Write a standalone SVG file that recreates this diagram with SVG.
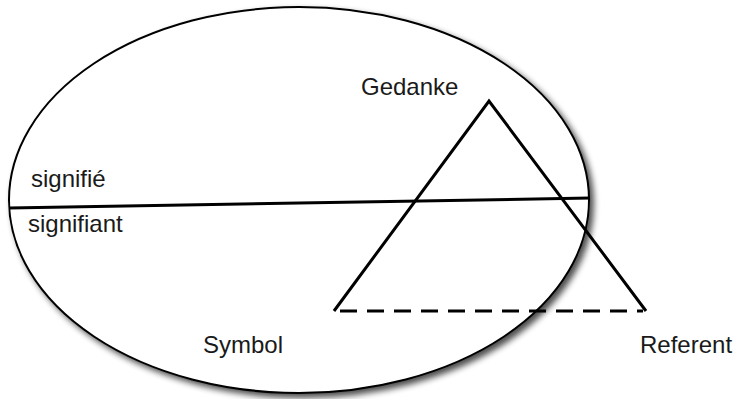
<svg xmlns="http://www.w3.org/2000/svg" width="737" height="399" viewBox="0 0 737 399">
<defs>
<filter id="shadow" x="-10%" y="-10%" width="125%" height="125%">
<feGaussianBlur in="SourceAlpha" stdDeviation="3"/>
<feOffset dx="4" dy="4" result="b"/>
<feComponentTransfer><feFuncA type="linear" slope="0.7"/></feComponentTransfer>
<feMerge><feMergeNode/><feMergeNode in="SourceGraphic"/></feMerge>
</filter>
<style>
.lbl{font-family:"Liberation Sans",Arial,sans-serif;font-size:24px;fill:#1a1a1a}
.ln{stroke:#000;fill:none;stroke-width:3}
</style>
</defs>
<rect width="737" height="399" fill="#fff"/>
<g id="ellipse">
<ellipse cx="299" cy="200" rx="290" ry="193" fill="#fff" stroke="#000" stroke-width="2" filter="url(#shadow)"/>
</g>
<g id="connectors">
<line class="ln" x1="9" y1="208" x2="590" y2="198"/>
<polyline class="ln" points="334,311 489,101 646,311" stroke-linejoin="miter"/>
<line class="ln" x1="340" y1="311" x2="643" y2="311" stroke-dasharray="17,10"/>
</g>
<g id="signifie"><text class="lbl" x="31" y="187">signifié</text></g>
<g id="signifiant"><text class="lbl" x="28" y="232">signifiant</text></g>
<g id="gedanke"><text class="lbl" x="361" y="95">Gedanke</text></g>
<g id="symbol"><text class="lbl" x="203" y="353">Symbol</text></g>
<g id="referent"><text class="lbl" x="640" y="353">Referent</text></g>
</svg>
